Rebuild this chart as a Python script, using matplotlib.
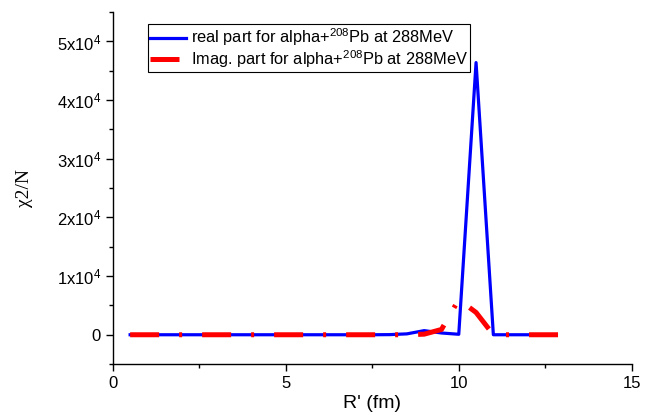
import numpy as np
import matplotlib
matplotlib.use("Agg")
import matplotlib.pyplot as plt
from matplotlib.ticker import FixedLocator, FuncFormatter

plt.rcParams.update({
    "font.family": ["Liberation Sans", "DejaVu Sans"],
    "mathtext.fontset": "custom",
    "mathtext.rm": "Liberation Sans",
    "mathtext.it": "Liberation Sans:italic",
    "mathtext.bf": "Liberation Sans:bold",
    "axes.linewidth": 1.0,
})

# data
r_real = [0.5, 1.0, 1.5, 2.0, 2.5, 3.0, 3.5, 4.0, 4.5, 5.0, 5.5, 6.0, 6.5,
          7.0, 7.5, 8.0, 8.5, 9.0, 9.5, 10.0, 10.5, 11.0, 11.5, 12.0, 12.5]
chi_real = [0, 0, 0, 0, 0, 0, 0, 0, 0, 0, 0, 0, 0,
            0, 0, 20, 150, 700, 300, 80, 46400, 0, 0, 0, 0]

r_imag = [0.5, 1.0, 1.5, 2.0, 2.5, 3.0, 3.5, 4.0, 4.5, 5.0, 5.5, 6.0, 6.5,
          7.0, 7.5, 8.0, 8.5, 9.0, 9.5, 10.0, 10.5, 11.0, 11.5, 12.0, 12.5, 13.0]
chi_imag = [0, 0, 0, 0, 0, 0, 0, 0, 0, 0, 0, 0, 0,
            0, 0, 0, 0, 100, 900, 6000, 3800, 0, 0, 0, 0, 0]

y_major = [0, 10000, 20000, 30000, 40000, 50000]
x_major = [0, 5, 10, 15]

fig = plt.figure(figsize=(6.56, 4.18), dpi=100)
ax = fig.add_axes([0.172, 0.129, 0.791, 0.842])

ax.plot(r_real, chi_real, color="#0000FF", lw=2.3,
        label=r"real part for alpha+$^{208}$Pb at 288MeV", zorder=2)
ax.plot(r_imag, chi_imag, color="#FF0000", lw=3.6,
        linestyle=(0, (5.8, 4.0, 0.6, 4.0)), dash_capstyle="butt",
        label=r"Imag. part for alpha+$^{208}$Pb at 288MeV", zorder=3)

ax.set_xlim(0, 15)
ax.set_ylim(-5000, 55000)
ax.xaxis.set_major_locator(FixedLocator(x_major))
ax.xaxis.set_minor_locator(FixedLocator([2.5, 7.5, 12.5]))
ax.yaxis.set_major_locator(FixedLocator(y_major))
ax.yaxis.set_minor_locator(FixedLocator([-5000, 5000, 15000, 25000, 35000, 45000, 55000]))


def ylab(v, pos):
    if v == 0:
        return "0"
    return r"%dx10$^{4}$" % round(v / 10000)


ax.yaxis.set_major_formatter(FuncFormatter(ylab))
ax.tick_params(which="major", direction="out", length=5, width=1, labelsize=12)
ax.tick_params(which="minor", direction="out", length=3, width=1)
ax.spines["top"].set_visible(False)
ax.spines["right"].set_visible(False)

ax.set_xlabel("R' (fm)", fontsize=14, labelpad=3)
ax.set_ylabel("χ2/N", fontsize=14, family=["Liberation Serif", "DejaVu Serif"], labelpad=17)

leg = ax.legend(loc="upper left", bbox_to_anchor=(0.067, 0.966), fontsize=11.8,
                frameon=True, fancybox=False, edgecolor="black", framealpha=1,
                handlelength=2.2, handletextpad=0.3, borderpad=0.15,
                labelspacing=0.0, borderaxespad=0)
leg.get_frame().set_linewidth(0.8)

fig.savefig("out.png", dpi=100)
